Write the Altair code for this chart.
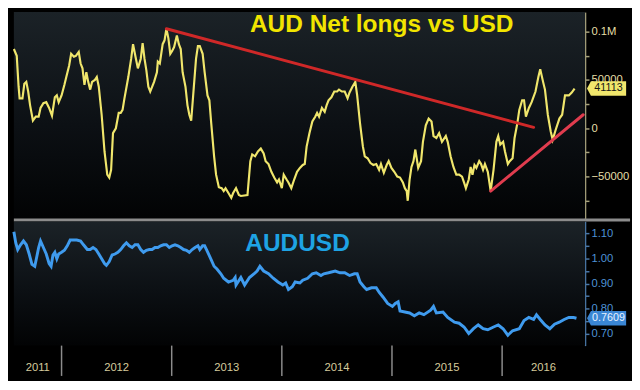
import altair as alt
import pandas as pd

# ---------------- data (decimal years) ----------------
net_t = [2011.567, 2011.593, 2011.610, 2011.619, 2011.645, 2011.662, 2011.680, 2011.697, 2011.714, 2011.740,
         2011.766, 2011.792, 2011.809, 2011.835, 2011.861, 2011.887, 2011.913, 2011.939, 2011.957, 2011.974,
         2012.000, 2012.026, 2012.043, 2012.069, 2012.087, 2012.112, 2012.130, 2012.156, 2012.173, 2012.190,
         2012.208, 2012.225, 2012.242, 2012.260, 2012.277, 2012.303, 2012.320, 2012.338, 2012.364, 2012.390,
         2012.415, 2012.433, 2012.450, 2012.467, 2012.493, 2012.519, 2012.537, 2012.554, 2012.571, 2012.606,
         2012.632, 2012.649, 2012.675, 2012.693, 2012.719, 2012.736, 2012.753, 2012.770, 2012.788, 2012.805,
         2012.840, 2012.866, 2012.874, 2012.892, 2012.918, 2012.935, 2012.952, 2012.970, 2012.987, 2013.004,
         2013.022, 2013.047, 2013.065, 2013.082, 2013.099, 2013.125, 2013.143, 2013.160, 2013.177, 2013.195,
         2013.221, 2013.238, 2013.255, 2013.281, 2013.299, 2013.325, 2013.342, 2013.359, 2013.385, 2013.403,
         2013.428, 2013.454, 2013.472, 2013.489, 2013.515, 2013.541, 2013.558, 2013.584, 2013.610, 2013.628,
         2013.688, 2013.714, 2013.731, 2013.757, 2013.783, 2013.809, 2013.835, 2013.853, 2013.879, 2013.905,
         2013.931, 2013.957, 2013.974, 2014.000, 2014.017, 2014.043, 2014.060, 2014.086, 2014.112, 2014.138,
         2014.164, 2014.190, 2014.208, 2014.225, 2014.251, 2014.277, 2014.303, 2014.320, 2014.338, 2014.364,
         2014.389, 2014.407, 2014.424, 2014.450, 2014.476, 2014.502, 2014.519, 2014.545, 2014.571, 2014.597,
         2014.615, 2014.641, 2014.667, 2014.684, 2014.710, 2014.736, 2014.753, 2014.779, 2014.805, 2014.831,
         2014.857, 2014.883, 2014.900, 2014.926, 2014.952, 2014.970, 2014.995, 2015.021, 2015.048, 2015.073,
         2015.099, 2015.117, 2015.134, 2015.143, 2015.160, 2015.177, 2015.195, 2015.212, 2015.238, 2015.264,
         2015.281, 2015.307, 2015.333, 2015.359, 2015.377, 2015.403, 2015.428, 2015.454, 2015.489, 2015.506,
         2015.532, 2015.558, 2015.584, 2015.610, 2015.636, 2015.654, 2015.671, 2015.697, 2015.714, 2015.731,
         2015.749, 2015.766, 2015.792, 2015.809, 2015.827, 2015.844, 2015.870, 2015.896, 2015.922, 2015.948,
         2015.965, 2015.983, 2016.009, 2016.026, 2016.052, 2016.069, 2016.095, 2016.113, 2016.138, 2016.156,
         2016.182, 2016.199, 2016.216, 2016.243, 2016.268, 2016.303, 2016.329, 2016.346, 2016.372, 2016.389,
         2016.415, 2016.441, 2016.459, 2016.485, 2016.520, 2016.545, 2016.571, 2016.606, 2016.632, 2016.658]
net_v = [82000, 75000, 43000, 31000, 31000, 46000, 48000, 38000, 24000, 8000,
         12000, 12000, 21000, 26000, 27000, 21000, 13000, 32000, 34000, 27000,
         34000, 45000, 53000, 65000, 77000, 74000, 75000, 79000, 67000, 62000,
         45000, 58000, 48000, 40000, 48000, 50000, 53000, 43000, 14000, -24000,
         -48000, -51000, -43000, -5000, 0, 16000, 16000, 19000, 31000, 53000,
         72000, 87000, 72000, 62000, 72000, 88000, 72000, 60000, 43000, 38000,
         48000, 58000, 69000, 67000, 87000, 91000, 103000, 93000, 77000, 80000,
         84000, 96000, 87000, 82000, 58000, 43000, 24000, 14000, 8000, 34000,
         72000, 85000, 85000, 77000, 58000, 34000, 29000, 5000, -29000, -48000,
         -61000, -62000, -65000, -62000, -67000, -72000, -67000, -62000, -69000, -70000,
         -69000, -34000, -27000, -29000, -24000, -21000, -26000, -34000, -37000, -45000,
         -51000, -56000, -53000, -62000, -48000, -53000, -56000, -62000, -53000, -45000,
         -41000, -38000, -37000, -19000, -5000, 7000, 12000, 16000, 12000, 21000,
         17000, 24000, 29000, 32000, 38000, 38000, 40000, 38000, 38000, 31000,
         37000, 43000, 48000, 34000, 5000, -19000, -29000, -31000, -36000, -38000,
         -37000, -43000, -37000, -46000, -38000, -34000, -41000, -45000, -50000, -51000,
         -56000, -62000, -65000, -75000, -53000, -40000, -34000, -22000, -41000, -34000,
         -14000, 3000, 10000, 7000, -8000, -10000, -5000, -14000, -8000, -14000,
         -29000, -40000, -48000, -48000, -50000, -56000, -62000, -53000, -40000, -48000,
         -38000, -41000, -34000, -37000, -43000, -37000, -45000, -65000, -43000, -14000,
         -8000, -17000, -14000, -24000, -37000, -34000, -31000, -10000, 5000, 19000,
         29000, 29000, 12000, 21000, 27000, 38000, 53000, 61000, 48000, 40000,
         14000, -3000, -12000, -2000, 10000, 14000, 34000, 34000, 37000, 41113]

aud_t = [2011.567, 2011.584, 2011.602, 2011.628, 2011.654, 2011.680, 2011.706, 2011.731, 2011.757, 2011.775,
         2011.792, 2011.809, 2011.835, 2011.861, 2011.887, 2011.905, 2011.922, 2011.939, 2011.957, 2011.974,
         2012.000, 2012.026, 2012.052, 2012.078, 2012.104, 2012.138, 2012.173, 2012.199, 2012.234, 2012.260,
         2012.286, 2012.312, 2012.338, 2012.364, 2012.390, 2012.407, 2012.433, 2012.459, 2012.485, 2012.511,
         2012.537, 2012.563, 2012.589, 2012.615, 2012.641, 2012.667, 2012.693, 2012.719, 2012.744, 2012.770,
         2012.796, 2012.822, 2012.848, 2012.874, 2012.900, 2012.926, 2012.952, 2012.978, 2013.004, 2013.030,
         2013.056, 2013.082, 2013.108, 2013.134, 2013.160, 2013.186, 2013.212, 2013.238, 2013.255, 2013.281,
         2013.299, 2013.316, 2013.359, 2013.385, 2013.411, 2013.446, 2013.472, 2013.515, 2013.558, 2013.576,
         2013.584, 2013.628, 2013.662, 2013.706, 2013.749, 2013.775, 2013.801, 2013.835, 2013.879, 2013.922,
         2013.965, 2014.009, 2014.035, 2014.060, 2014.095, 2014.121, 2014.164, 2014.190, 2014.234, 2014.277,
         2014.312, 2014.355, 2014.381, 2014.424, 2014.485, 2014.528, 2014.571, 2014.615, 2014.658, 2014.684,
         2014.710, 2014.745, 2014.770, 2014.814, 2014.857, 2014.883, 2014.918, 2014.961, 2015.004, 2015.030,
         2015.056, 2015.073, 2015.117, 2015.160, 2015.203, 2015.247, 2015.290, 2015.351, 2015.377, 2015.403,
         2015.463, 2015.506, 2015.567, 2015.610, 2015.654, 2015.697, 2015.740, 2015.783, 2015.827, 2015.870,
         2015.922, 2015.965, 2016.009, 2016.052, 2016.095, 2016.156, 2016.199, 2016.242, 2016.286, 2016.312,
         2016.346, 2016.389, 2016.433, 2016.476, 2016.519, 2016.563, 2016.606, 2016.649, 2016.675]
aud_v = [1.107, 1.063, 1.036, 1.055, 1.070, 1.055, 1.018, 0.977, 0.969, 1.007,
         1.044, 1.070, 1.044, 1.018, 0.980, 0.969, 1.014, 1.025, 0.999, 1.018,
         1.025, 1.033, 1.051, 1.074, 1.074, 1.074, 1.070, 1.055, 1.036, 1.036,
         1.044, 1.036, 1.018, 0.999, 0.980, 0.973, 0.988, 1.014, 1.018, 1.025,
         1.036, 1.051, 1.063, 1.051, 1.044, 1.055, 1.055, 1.036, 1.025, 1.033,
         1.036, 1.036, 1.044, 1.044, 1.051, 1.055, 1.055, 1.044, 1.051, 1.055,
         1.051, 1.044, 1.036, 1.033, 1.025, 1.036, 1.044, 1.051, 1.036, 1.051,
         1.051, 1.036, 0.995, 0.969, 0.958, 0.939, 0.921, 0.906, 0.913, 0.924,
         0.894, 0.924, 0.894, 0.924, 0.939, 0.950, 0.969, 0.950, 0.939, 0.921,
         0.906, 0.894, 0.902, 0.876, 0.887, 0.906, 0.902, 0.913, 0.921, 0.939,
         0.943, 0.932, 0.939, 0.943, 0.950, 0.943, 0.943, 0.932, 0.939, 0.939,
         0.906, 0.887, 0.876, 0.883, 0.883, 0.865, 0.846, 0.820, 0.808, 0.820,
         0.827, 0.790, 0.786, 0.782, 0.771, 0.782, 0.775, 0.793, 0.808, 0.782,
         0.786, 0.764, 0.745, 0.741, 0.726, 0.700, 0.719, 0.734, 0.719, 0.715,
         0.726, 0.734, 0.719, 0.693, 0.711, 0.719, 0.752, 0.764, 0.756, 0.775,
         0.756, 0.734, 0.719, 0.737, 0.745, 0.756, 0.764, 0.764, 0.7609]

trend1_t = [2012.952, 2016.286]
trend1_v = [103000, 1000]
trend2_t = [2015.896, 2016.736]
trend2_v = [-65000, 14000]

years = [2011, 2012, 2013, 2014, 2015, 2016]
x_domain = [2011.567, 2016.753]
net_domain = [-93300, 120200]
aud_domain = [0.6514, 1.1486]
net_ticks = [-75000, -50000, -25000, 0, 25000, 50000, 75000, 100000]
aud_ticks = [0.70, 0.75, 0.80, 0.85, 0.90, 0.95, 1.00, 1.05, 1.10]
net_title = "AUD Net longs vs USD"
aud_title = "AUDUSD"

# ---------------- style ----------------
W, H1, H2 = 584, 211, 127
FONT = "Liberation Sans"
YELLOW = "#f0e66c"
BLUE = "#3f9bee"
GRAY = "#8c8c8c"

quarters = [y + q / 4 for y in years for q in range(4) if x_domain[0] <= y + q / 4 <= x_domain[1] - 0.1]
year_starts = [y for y in years if x_domain[0] < y < x_domain[1]]
year_mid = [(max(y, x_domain[0]) + min(y + 1, x_domain[1])) / 2 for y in years]

x_scale = alt.Scale(domain=x_domain, nice=False, zero=False)
x_plain = alt.X("t:Q", scale=x_scale, axis=None)

grad = alt.LinearGradient(
    gradient="linear",
    stops=[alt.GradientStop(color="#1b2227", offset=0),
           alt.GradientStop(color="#0c1014", offset=0.55),
           alt.GradientStop(color="#020304", offset=1)],
    x1=0, x2=0, y1=0, y2=1,
)
one = pd.DataFrame({"a": [0]})


def backdrop(h):
    return alt.Chart(one).mark_rect(color=grad).encode(
        x=alt.value(0), x2=alt.value(W), y=alt.value(0), y2=alt.value(h))


# ---------------- top panel ----------------
y_net = alt.Y(
    "v:Q",
    scale=alt.Scale(domain=net_domain, nice=False, zero=False),
    axis=alt.Axis(
        orient="right", values=net_ticks, title=None, grid=False,
        labelExpr="datum.value == 100000 ? '0.1M' : (datum.value % 50000 == 0 ? format(datum.value, 'd') : '')",
        domainColor="#a7a27c", domainWidth=1.5, tickColor="#a7a27c", tickSize=4, tickWidth=1.5,
        labelColor="#e4dea6", labelFont=FONT, labelFontSize=11.5, labelPadding=2,
    ),
)

net_df = pd.DataFrame({"t": net_t, "v": net_v})
net_line = alt.Chart(net_df).mark_line(color=YELLOW, strokeWidth=2.2).encode(x=x_plain, y=y_net)
tr1 = alt.Chart(pd.DataFrame({"t": trend1_t, "v": trend1_v})).mark_line(
    color="#cf2828", strokeWidth=3, strokeCap="round").encode(x=x_plain, y=y_net)
tr2 = alt.Chart(pd.DataFrame({"t": trend2_t, "v": trend2_v})).mark_line(
    color="#e03c4e", strokeWidth=3, strokeCap="round").encode(x=x_plain, y=y_net)
top_title = alt.Chart(pd.DataFrame({"s": [net_title]})).mark_text(
    font=FONT, fontWeight="bold", fontSize=25, color="#f2e500", align="center", baseline="alphabetic"
).encode(x=alt.value(376), y=alt.value(20), text="s:N")

TAG = "M-1,0 L-0.8,-0.37 L1,-0.37 L1,0.37 L-0.8,0.37 Z"
net_last = pd.DataFrame({"v": [net_v[-1]], "s": [str(net_v[-1])]})
net_tag = alt.Chart(net_last).mark_point(shape=TAG, size=1600, filled=True, color=YELLOW, opacity=1).encode(
    x=alt.value(W + 22), y=y_net)
net_tag_txt = alt.Chart(net_last).mark_text(font=FONT, fontSize=11, color="#151515", align="center",
                                             baseline="middle").encode(x=alt.value(W + 24), y=y_net, text="s:N")
sep = alt.Chart(one).mark_rule(color=GRAY, strokeWidth=3).encode(
    x=alt.value(0), x2=alt.value(W + 46), y=alt.value(H1 + 1.5))

top = alt.layer(backdrop(H1), net_line, tr1, tr2, top_title, net_tag, net_tag_txt, sep).properties(
    width=W, height=H1)

# ---------------- bottom panel ----------------
y_aud = alt.Y(
    "v:Q",
    scale=alt.Scale(domain=aud_domain, nice=False, zero=False),
    axis=alt.Axis(
        orient="right", values=aud_ticks, title=None, grid=False, format=".2f",
        labelExpr="(round(datum.value * 100) % 10 == 0) ? datum.label : ''",
        domainColor="#4a78a8", domainWidth=1.5, tickColor="#4a78a8", tickSize=4, tickWidth=1.5,
        labelColor="#4d92d6", labelFont=FONT, labelFontSize=11.5, labelPadding=2,
    ),
)
x_axis = alt.X("t:Q", scale=x_scale, axis=alt.Axis(
    orient="bottom", values=quarters, labels=False, title=None, grid=False,
    tickSize=5, tickColor=GRAY, tickWidth=1, domainColor="#9a9a9a", domainWidth=2))

aud_df = pd.DataFrame({"t": aud_t, "v": aud_v})
aud_line = alt.Chart(aud_df).mark_line(color=BLUE, strokeWidth=3).encode(x=x_axis, y=y_aud)
bot_title = alt.Chart(pd.DataFrame({"s": [aud_title]})).mark_text(
    font=FONT, fontWeight="bold", fontSize=25, color="#1ea3e4", align="center", baseline="alphabetic"
).encode(x=alt.value(290), y=alt.value(30), text="s:N")
aud_last = pd.DataFrame({"v": [aud_v[-1]], "s": ["%.4f" % aud_v[-1]]})
aud_tag = alt.Chart(aud_last).mark_point(shape=TAG, size=1600, filled=True, color="#3a86d4", opacity=1).encode(
    x=alt.value(W + 22), y=y_aud)
aud_tag_txt = alt.Chart(aud_last).mark_text(font=FONT, fontSize=11, color="#e8f2ff", align="center",
                                             baseline="middle").encode(x=alt.value(W + 24), y=y_aud, text="s:N")
yr_rules = alt.Chart(pd.DataFrame({"t": year_starts})).mark_rule(color=GRAY, strokeWidth=1.5).encode(
    x=x_plain, y=alt.value(H2), y2=alt.value(H2 + 31))
yr_text = alt.Chart(pd.DataFrame({"t": year_mid, "s": [str(y) for y in years]})).mark_text(
    font=FONT, fontSize=11.5, color="#d6cb9c", align="center", baseline="middle"
).encode(x=x_plain, y=alt.value(H2 + 23), text="s:N")

bottom = alt.layer(backdrop(H2), aud_line, bot_title, aud_tag, aud_tag_txt, yr_rules, yr_text).properties(
    width=W, height=H2)

chart = (
    alt.vconcat(top, bottom, spacing=0)
    .properties(background="#000000", padding={"left": 0, "top": 0, "right": 0, "bottom": 0})
    .configure_view(strokeWidth=0)
)

chart.save("out.html", embed_options={"renderer": "svg", "actions": False})
